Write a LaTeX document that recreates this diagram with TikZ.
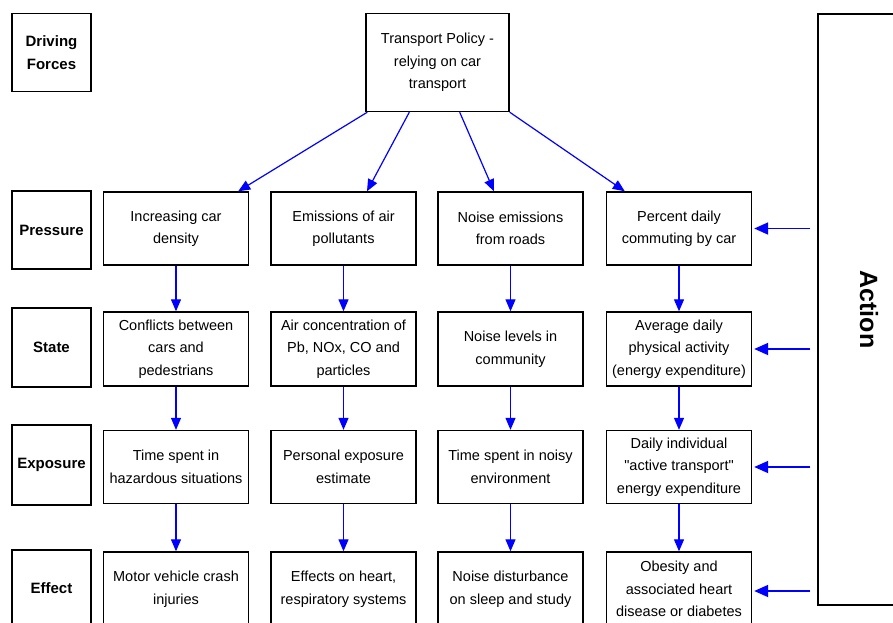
\documentclass[tikz,border=0pt]{standalone}
\usepackage{fontspec}
\setmainfont{Liberation Sans}
\usetikzlibrary{arrows.meta}

\begin{document}
\begin{tikzpicture}[x=1pt, y=-1pt,
    lbl/.style={draw, line width=1.4pt, minimum width=79pt, align=center,
      font=\fontsize{15}{23}\selectfont\bfseries},
    ind/.style={draw, line width=1.4pt, minimum width=145pt, minimum height=74pt,
      align=center, inner sep=1pt, font=\fontsize{14.5}{22.5}\selectfont},
    flow/.style={blue, line width=1.2pt, -{Triangle[length=12pt, width=10pt]}},
    act/.style={blue, line width=1.8pt, -{Triangle[length=14pt, width=12pt]}}]
      \clip (0,0) rectangle (893,622);
      \fill[white] (0,0) rectangle (893,622);

      \node[lbl, minimum height=78pt] (df) at (51.5,52.5) {Driving\\Forces};
      \node[lbl, minimum height=78pt] (lp) at (51.5,230) {Pressure};
      \node[lbl, minimum height=79pt] (ls) at (51.5,347.5) {State};
      \node[lbl, minimum height=80pt] (lx) at (51.5,465) {Exposure};
      \node[lbl, minimum height=76pt] (le) at (51.5,588) {Effect};

      \node[ind, minimum width=143pt, minimum height=98pt] (top) at (437.5,62.5)
        {Transport Policy -\\relying on car\\transport};

      \node[ind, minimum height=73pt] (p1) at (176,228.5) {Increasing car\\density};
      \node[ind, minimum height=73pt] (p2) at (343.5,228.5) {Emissions of air\\pollutants};
      \node[ind, minimum height=73pt] (p3) at (510.5,228.5) {Noise emissions\\from roads};
      \node[ind, minimum height=73pt] (p4) at (679,228.5) {Percent daily\\commuting by car};

      \node[ind] (s1) at (176,349) {Conflicts between\\cars and\\pedestrians};
      \node[ind] (s2) at (343.5,349) {Air concentration of\\Pb, NOx, CO and\\particles};
      \node[ind] (s3) at (510.5,349) {Noise levels in\\community};
      \node[ind] (s4) at (679,349) {Average daily\\physical activity\\(energy expenditure)};

      \node[ind, minimum height=73pt] (x1) at (176,467) {Time spent in\\hazardous situations};
      \node[ind, minimum height=73pt] (x2) at (343.5,467) {Personal exposure\\estimate};
      \node[ind, minimum height=73pt] (x3) at (510.5,467) {Time spent in noisy\\environment};
      \node[ind, minimum height=73pt] (x4) at (679,467)
        {Daily individual\\\textquotedbl active transport\textquotedbl\\energy expenditure};

      \node[ind] (e1) at (176,589) {Motor vehicle crash\\injuries};
      \node[ind] (e2) at (343.5,589) {Effects on heart,\\respiratory systems};
      \node[ind] (e3) at (510.5,589) {Noise disturbance\\on sleep and study};
      \node[ind] (e4) at (679,589) {Obesity and\\associated heart\\disease or diabetes};

      \node[draw, line width=1.4pt, minimum width=102pt, minimum height=591pt] (act) at (869,309.5)
        {\rotatebox{-90}{\fontsize{25}{25}\selectfont\bfseries Action}};

      \draw[flow] ([xshift=2pt]top.south west) -- ([xshift=-11pt]p1.north east);
      \draw[flow] ([xshift=44pt]top.south west) -- ([xshift=23.5pt]p2.north);
      \draw[flow] ([xshift=-50pt]top.south east) -- ([xshift=-16.5pt]p3.north);
      \draw[flow] (top.south east) -- ([xshift=19pt]p4.north west);

      \foreach \c in {1,...,4} {
        \draw[flow] (p\c) -- (s\c);
        \draw[flow] (s\c) -- (x\c);
        \draw[flow] (x\c) -- (e\c);
      }

      \draw[act] ([xshift=-7pt]act.west |- p4.east) -- ([xshift=2pt]p4.east);
      \draw[act] ([xshift=-7pt]act.west |- s4.east) -- ([xshift=2pt]s4.east);
      \draw[act] ([xshift=-7pt]act.west |- x4.east) -- ([xshift=2pt]x4.east);
      \draw[act] ([xshift=-7pt,yshift=-2pt]act.west |- e4.east) -- ([xshift=2pt,yshift=-2pt]e4.east);
    \end{tikzpicture}
\end{document}
